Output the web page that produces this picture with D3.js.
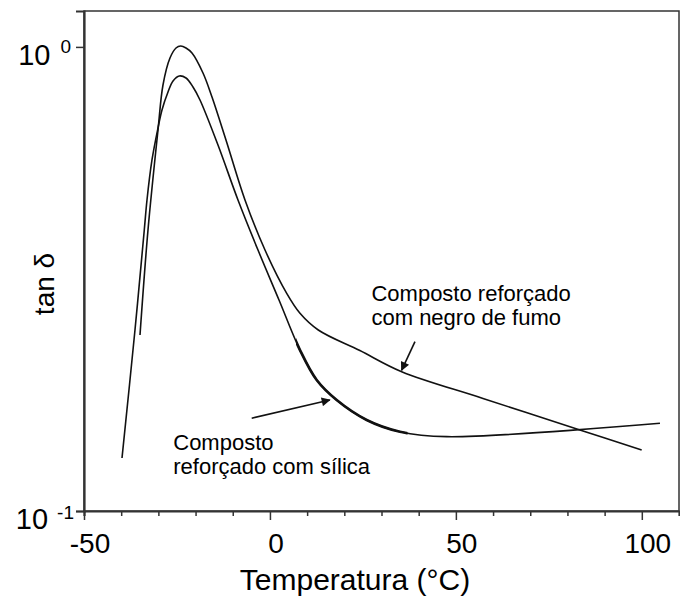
<!DOCTYPE html>
<html><head><meta charset="utf-8">
<script src="https://cdn.jsdelivr.net/npm/d3@7"></script>
<style>
body{margin:0;background:#fff;}
text{font-family:"Liberation Sans",Arial,sans-serif;fill:#000;}
</style></head>
<body><svg id="chart" width="680" height="598"></svg>
<script>
// ---- data ----
const negroT = [-34.94, -32.79, -30.10, -28.76, -26.88, -25.26, -24.0, -22.57, -20.96, -18.0, -15.58, -11.82, -6.71, -1.33, 4.51, 8.08, 13.0, 24.18, 35.43, 57.29, 84.18, 99.96];
const negroV = [0.2394, 0.4032, 0.6623, 0.8278, 0.9464, 0.9946, 1.0045, 0.9946, 0.9702, 0.8786, 0.7799, 0.6300, 0.4679, 0.3650, 0.2944, 0.2667, 0.2455, 0.2217, 0.1996, 0.1748, 0.1488, 0.1353];
const silicaT = [-39.78, -36.29, -33.79, -33.06, -31.72, -30.10, -29.03, -27.41, -26.06, -24.37, -22.57, -20.69, -18.81, -13.97, -8.59, -3.21, 2.44, 8.08, 12.57, 17.95, 26.01, 34.97, 47.53, 104.88];
const silicaV = [0.1301, 0.2455, 0.4032, 0.4679, 0.5706, 0.6689, 0.7312, 0.7995, 0.8445, 0.8656, 0.8570, 0.8196, 0.7685, 0.6146, 0.4679, 0.3650, 0.2849, 0.2222, 0.1915, 0.1734, 0.1571, 0.1482, 0.1446, 0.1545];
const xTicks = [-50, -40, -30, -20, -10, 0, 10, 20, 30, 40, 50, 60, 70, 80, 90, 100];
const xTickLabels = ["-50", "0", "50", "100"];
const yTickValues = [1, 0.1];
const yTickExp = ["0", "-1"];
const labelNegro = ["Composto reforçado", "com negro de fumo"];
const labelSilica = ["Composto", "reforçado com sílica"];
const xTitle = "Temperatura (°C)";
const yTitle = "tan δ";

// ---- layout ----
const svg = d3.select("#chart");
const L = 84, R = 679, T = 11, B = 511;
const x = d3.scaleLinear().domain([-50, 110]).range([L, R]);
const y = d3.scaleLog().domain([0.1, 1.195]).range([B, T]);

// frame
svg.append("rect").attr("x", L).attr("y", T).attr("width", R - L).attr("height", B - T)
  .attr("fill", "none").attr("stroke", "#333").attr("stroke-width", 1.5);

// x axis
const gx = svg.append("g").attr("transform", `translate(0,${B})`)
  .call(d3.axisBottom(x).tickValues(xTicks).tickFormat("").tickSizeOuter(0).tickSize(5));
gx.select(".domain").attr("stroke", "#333").attr("stroke-width", 2.2);
gx.selectAll(".tick line").attr("stroke", "#333").attr("stroke-width", 1.5)
  .attr("y2", d => (d % 50 === 0 ? 9 : 5));
const majors = xTicks.filter(d => d % 50 === 0);
svg.append("g").selectAll("text").data(majors).join("text")
  .attr("x", d => x(d) + 6).attr("y", 553).attr("text-anchor", "middle")
  .attr("font-size", 28).text((d, i) => xTickLabels[i]);

// y axis
const gy = svg.append("g").attr("transform", `translate(${L},0)`)
  .call(d3.axisLeft(y).tickValues(yTickValues).tickFormat("").tickSizeOuter(0).tickSize(8));
gy.select(".domain").attr("stroke", "#333").attr("stroke-width", 2.2);
gy.selectAll(".tick line").attr("stroke", "#333").attr("stroke-width", 1.5);
yTickValues.forEach((v, i) => {
  const t = svg.append("text").attr("x", i === 0 ? 71 : 74).attr("y", y(v) + 18).attr("text-anchor", "end");
  t.append("tspan").attr("font-size", 29).text("10");
  t.append("tspan").attr("font-size", 19).attr("dx", i === 0 ? 10 : 9)
    .attr("dy", i === 0 ? -12 : -10).text(yTickExp[i]);
});

// titles
svg.append("text").attr("x", 355).attr("y", 590).attr("text-anchor", "middle")
  .attr("font-size", 30).text(xTitle);
svg.append("text").attr("transform", `translate(54,${284}) rotate(-90)`)
  .attr("text-anchor", "middle").attr("font-size", 28).text(yTitle);

// curves
const line = d3.line().x(d => x(d[0])).y(d => y(d[1])).curve(d3.curveCatmullRom.alpha(0.5));
const negro = negroT.map((t, i) => [t, negroV[i]]);
const silica = silicaT.map((t, i) => [t, silicaV[i]]);
svg.append("path").datum(negro).attr("d", line).attr("fill", "none")
  .attr("stroke", "#111").attr("stroke-width", 1.6);
svg.append("path").datum(silica).attr("d", line).attr("fill", "none")
  .attr("stroke", "#111").attr("stroke-width", 1.6);
const defs = svg.append("defs");
defs.append("clipPath").attr("id", "boldclip").append("rect")
  .attr("x", x(7)).attr("y", T).attr("width", x(37) - x(7)).attr("height", B - T);
svg.append("path").datum(silica).attr("d", line).attr("fill", "none")
  .attr("clip-path", "url(#boldclip)")
  .attr("stroke", "#111").attr("stroke-width", 2.7);

// annotations
defs.append("marker").attr("id", "ah").attr("viewBox", "0 0 10 10").attr("refX", 9).attr("refY", 5)
  .attr("markerWidth", 13).attr("markerHeight", 9).attr("markerUnits", "userSpaceOnUse")
  .attr("orient", "auto").append("path").attr("d", "M0,0L10,5L0,10Z").attr("fill", "#111");
const arrows = [
  {from: [39.0, 0.2317], to: [35.4, 0.201]},
  {from: [-4.9, 0.1585], to: [16.1, 0.1735]}
];
svg.append("g").selectAll("line").data(arrows).join("line")
  .attr("x1", d => x(d.from[0])).attr("y1", d => y(d.from[1]))
  .attr("x2", d => x(d.to[0])).attr("y2", d => y(d.to[1]))
  .attr("stroke", "#111").attr("stroke-width", 1.6).attr("marker-end", "url(#ah)");

function label(lines, t, v0, v1) {
  const g = svg.append("text").attr("font-size", 22);
  lines.forEach((s, i) => g.append("tspan").attr("x", x(t)).attr("y", y(i === 0 ? v0 : v1)).text(s));
}
label(labelNegro, 27.3, 0.2836, 0.2517);
label(labelSilica, -26.0, 0.1353, 0.1202);
</script></body></html>
